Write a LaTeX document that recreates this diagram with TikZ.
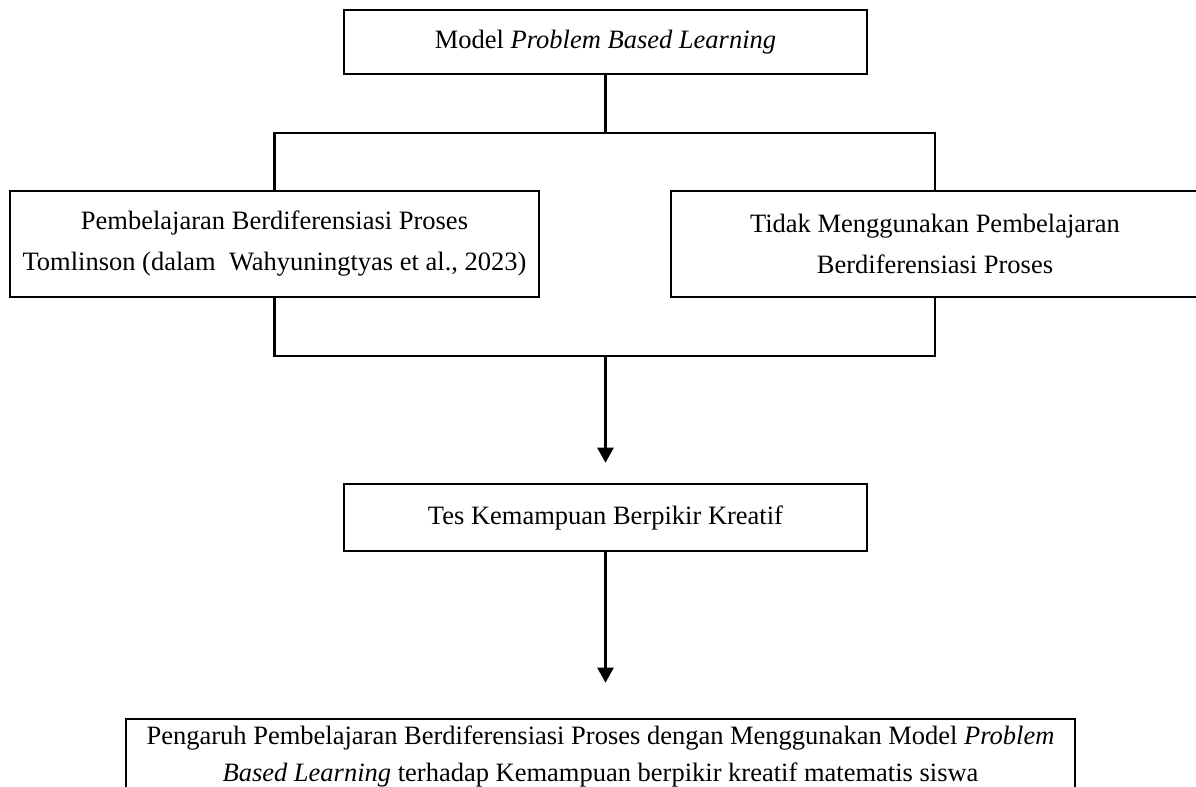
\documentclass[tikz,border=0pt]{standalone}
\usepackage{fontspec}
\setmainfont{Liberation Serif}
\usetikzlibrary{arrows.meta}
\begin{document}
\begin{tikzpicture}[x=0.5pt,y=-0.5pt,
  box/.style={draw=black, line width=1.3pt, fill=white, inner sep=0pt, align=center,
    font=\fontsize{13.25}{20.5}\selectfont},
  conn/.style={draw=black, line width=1.3pt},
  arr/.style={conn, -{Triangle[length=7.5pt,width=8pt]}}]
\useasboundingbox (0,0) rectangle (1196,787);
\fill[white] (0,0) rectangle (1196,787);
\node[box, minimum width=261.5pt, minimum height=32pt] (top) at (605.5,42) {Model \textit{Problem Based Learning}};
\node[box, minimum width=264.5pt, minimum height=53pt] (L) at (274.5,244) {Pembelajaran Berdiferensiasi Proses\\Tomlinson (dalam\ \ Wahyuningtyas et al., 2023)};
\node[box, minimum width=264pt, minimum height=53pt] (R) at (935,244) {Tidak Menggunakan Pembelajaran\\Berdiferensiasi Proses};
\node[box, minimum width=261.5pt, minimum height=33.5pt] (tes) at (605.5,517.5) {Tes Kemampuan Berpikir Kreatif};
\node[box, minimum width=474.5pt, minimum height=37pt, font=\fontsize{13.25}{18.5}\selectfont] (bot) at (600.5,756) {Pengaruh Pembelajaran Berdiferensiasi Proses dengan Menggunakan Model \textit{Problem}\\\textit{Based Learning} terhadap Kemampuan berpikir kreatif matematis siswa};
\coordinate (hb) at (0,133);
\coordinate (lb) at (0,356);
\draw[conn] (top.south) -- (top.south |- hb);
\draw[conn] (L.north) -- (L.north |- hb) -- (R.north |- hb) -- (R.north);
\draw[conn] (L.south) -- (L.south |- lb) -- (R.south |- lb) -- (R.south);
\draw[arr, shorten >=10pt] (lb -| tes.north) -- (tes.north);
\draw[arr, shorten >=17.5pt] (tes.south) -- (tes.south |- bot.north);
\end{tikzpicture}
\end{document}
